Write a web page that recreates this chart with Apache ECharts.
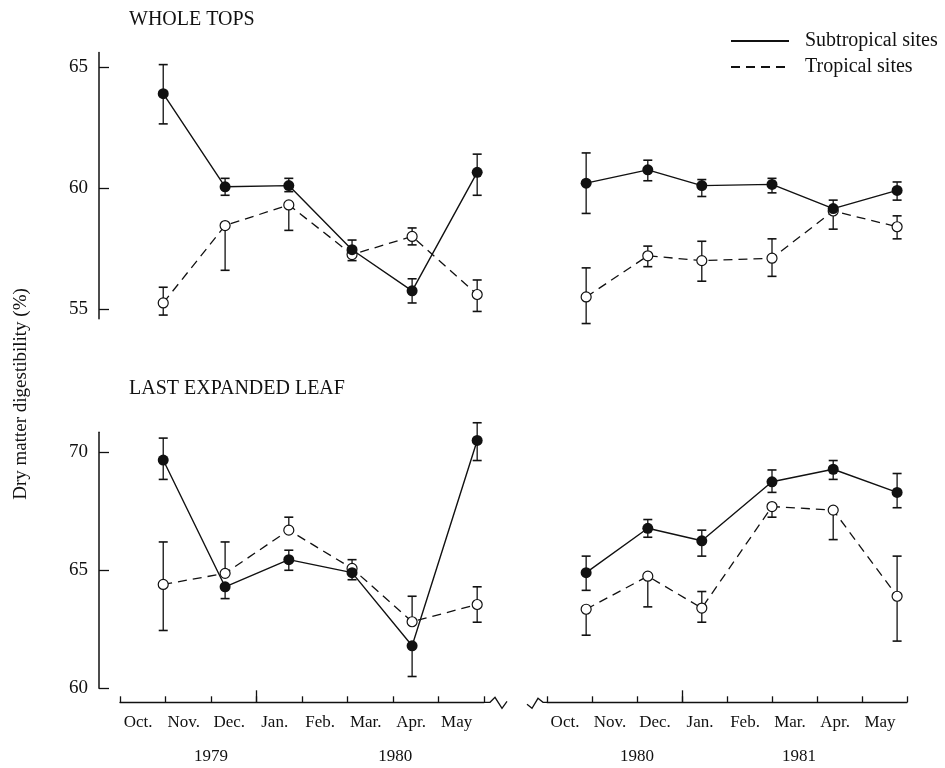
<!DOCTYPE html>
<html>
<head>
<meta charset="utf-8">
<script src="https://cdn.jsdelivr.net/npm/echarts@6/dist/echarts.min.js"></script>
<style>
html,body{margin:0;padding:0;background:#fff;}
#chart{width:945px;height:768px;}
</style>
</head>
<body>
<div id="chart"></div>
<script>
// ---- Data (months since 1 Oct of each season) ----
var monthLabels = ['Oct.', 'Nov.', 'Dec.', 'Jan.', 'Feb.', 'Mar.', 'Apr.', 'May'];
var yearLabels1 = ['1979', '1980'];
var yearLabels2 = ['1980', '1981'];
var yearPos1 = [2.0, 6.05];
var yearPos2 = [2.0, 5.6];
var topTicks = [55, 60, 65];
var leafTicks = [60, 65, 70];

var season1X = [0.95, 2.31, 3.71, 5.10, 6.42, 7.85];
var season2X = [0.87, 2.24, 3.44, 5.00, 6.36, 7.78];

// WHOLE TOPS
var topSub1 = [63.9, 60.05, 60.1, 57.45, 55.75, 60.65];
var topSub1Up = [65.1, 60.4, 60.4, 57.85, 56.25, 61.4];
var topSub1Lo = [62.65, 59.7, 59.85, null, 55.25, 59.7];
var topTro1 = [55.25, 58.45, 59.3, 57.25, 58.0, 55.6];
var topTro1Up = [55.9, null, null, null, 58.35, 56.2];
var topTro1Lo = [54.75, 56.6, 58.25, 57.0, 57.65, 54.9];

var topSub2 = [60.2, 60.75, 60.1, 60.15, 59.15, 59.9];
var topSub2Up = [61.45, 61.15, 60.35, 60.4, 59.5, 60.25];
var topSub2Lo = [58.95, 60.3, 59.65, 59.8, null, 59.5];
var topTro2 = [55.5, 57.2, 57.0, 57.1, 59.05, 58.4];
var topTro2Up = [56.7, 57.6, 57.8, 57.9, null, 58.85];
var topTro2Lo = [54.4, 56.75, 56.15, 56.35, 58.3, 57.9];

// LAST EXPANDED LEAF
var leafSub1 = [69.67, 64.3, 65.45, 64.9, 61.8, 70.5];
var leafSub1Up = [70.6, null, 65.85, null, null, 71.25];
var leafSub1Lo = [68.85, 63.8, 65.0, 64.6, 60.5, 69.65];
var leafTro1 = [64.4, 64.87, 66.7, 65.08, 62.82, 63.55];
var leafTro1Up = [66.2, 66.2, 67.25, 65.45, 63.9, 64.3];
var leafTro1Lo = [62.45, null, null, null, null, 62.8];

var leafSub2 = [64.9, 66.78, 66.25, 68.75, 69.28, 68.3];
var leafSub2Up = [65.6, 67.15, 66.7, 69.25, 69.65, 69.1];
var leafSub2Lo = [64.15, 66.4, 65.6, 68.3, 68.85, 67.65];
var leafTro2 = [63.35, 64.75, 63.4, 67.7, 67.55, 63.9];
var leafTro2Up = [null, null, 64.1, null, null, 65.6];
var leafTro2Lo = [62.25, 63.45, 62.8, 67.25, 66.3, 62.0];

// ---- Styles ----
var FONT = '"Liberation Serif", "DejaVu Serif", serif';
var INK = '#111';
var SUB = 'Subtropical sites';
var TRO = 'Tropical sites';

function pairs(xs, ys) {
  return xs.map(function (x, i) { return [x, ys[i]]; });
}
function whiskers(xs, mean, up, lo) {
  var out = [];
  xs.forEach(function (x, i) {
    if (up[i] != null) out.push([x, mean[i], up[i]]);
    if (lo[i] != null) out.push([x, mean[i], lo[i]]);
  });
  return out;
}
function renderWhisker(params, api) {
  var x = api.value(0);
  var p0 = api.coord([x, api.value(1)]);
  var p1 = api.coord([x, api.value(2)]);
  var hw = 4.5;
  return {
    type: 'group',
    children: [
      { type: 'line', shape: { x1: p0[0], y1: p0[1], x2: p1[0], y2: p1[1] },
        style: { stroke: INK, lineWidth: 1.3 } },
      { type: 'line', shape: { x1: p1[0] - hw, y1: p1[1], x2: p1[0] + hw, y2: p1[1] },
        style: { stroke: INK, lineWidth: 1.6 } }
    ]
  };
}
function errSeries(idx, xs, mean, up, lo) {
  return {
    type: 'custom', xAxisIndex: idx, yAxisIndex: idx, z: 1,
    renderItem: renderWhisker, encode: { x: 0, y: [1, 2] },
    data: whiskers(xs, mean, up, lo), silent: true, clip: false
  };
}
function subSeries(idx, xs, ys) {
  return {
    type: 'line', name: SUB, xAxisIndex: idx, yAxisIndex: idx, z: 4,
    data: pairs(xs, ys), symbol: 'circle', symbolSize: 11, showSymbol: true,
    lineStyle: { color: INK, width: 1.4, type: 'solid' },
    itemStyle: { color: INK, borderColor: INK, borderWidth: 0 },
    silent: true
  };
}
function troSeries(idx, xs, ys) {
  return {
    type: 'line', name: TRO, xAxisIndex: idx, yAxisIndex: idx, z: 3,
    data: pairs(xs, ys), symbol: 'circle', symbolSize: 10, showSymbol: true,
    lineStyle: { color: INK, width: 1.3, type: [9, 6] },
    itemStyle: { color: '#fff', borderColor: INK, borderWidth: 1.2 },
    silent: true
  };
}

var grids = [
  { left: 120, width: 364, top: 52.5, height: 266.2 },
  { left: 547, width: 360, top: 52.5, height: 266.2 },
  { left: 120, width: 364, top: 432.2, height: 256.1 },
  { left: 547, width: 360, top: 432.2, height: 256.1 }
];

function hiddenX(g) {
  return { type: 'value', gridIndex: g, min: 0, max: 8, show: false };
}
function monthAxis(g) {
  return {
    type: 'value', gridIndex: g, min: 0, max: 8, position: 'bottom', offset: 14,
    axisLine: { show: true, onZero: false, lineStyle: { color: INK, width: 1.3 } },
    axisTick: { show: true, inside: true, length: 6, customValues: [0, 1, 2, 3, 4, 5, 6, 7, 8],
      lineStyle: { color: INK, width: 1.3 } },
    axisLabel: { show: true, customValues: [0.4, 1.4, 2.4, 3.4, 4.4, 5.4, 6.4, 7.4], margin: 12,
      formatter: function (v) { return monthLabels[Math.floor(v)]; },
      fontFamily: FONT, fontSize: 17, color: INK, hideOverlap: false },
    splitLine: { show: false }
  };
}
function yearAxis(g, pos, labels) {
  return {
    type: 'value', gridIndex: g, min: 0, max: 8, position: 'bottom', offset: 14,
    axisLine: { show: false, onZero: false },
    axisTick: { show: true, inside: true, length: 12, customValues: [3],
      lineStyle: { color: INK, width: 1.3 } },
    axisLabel: { show: true, customValues: pos, margin: 46,
      formatter: function (v) { return labels[pos.indexOf(v)]; },
      fontFamily: FONT, fontSize: 17, color: INK },
    splitLine: { show: false }
  };
}
function shownY(g, min, max, ticks) {
  return {
    type: 'value', gridIndex: g, min: min, max: max, position: 'left', offset: 21,
    axisLine: { show: true, onZero: false, lineStyle: { color: INK, width: 1.5 } },
    axisTick: { show: true, inside: true, length: 10, customValues: ticks,
      lineStyle: { color: INK, width: 1.3 } },
    axisLabel: { show: true, customValues: ticks, margin: 11,
      fontFamily: FONT, fontSize: 19, color: INK },
    splitLine: { show: false }
  };
}
function hiddenY(g, min, max) {
  return { type: 'value', gridIndex: g, min: min, max: max, show: false };
}

var option = {
  backgroundColor: '#fff',
  animation: false,
  title: [
    { text: 'WHOLE TOPS', left: 124, top: 5,
      textStyle: { fontFamily: FONT, fontSize: 20, fontWeight: 'normal', color: INK } },
    { text: 'LAST EXPANDED LEAF', left: 124, top: 374,
      textStyle: { fontFamily: FONT, fontSize: 20, fontWeight: 'normal', color: INK } }
  ],
  legend: {
    data: [SUB, TRO], orient: 'vertical', left: 725, top: 26,
    itemWidth: 58, itemHeight: 14, itemGap: 6, selectedMode: false,
    itemStyle: { color: 'rgba(0,0,0,0)', borderColor: 'rgba(0,0,0,0)', borderWidth: 0 },
    textStyle: { fontFamily: FONT, fontSize: 20, color: INK, padding: [0, 0, 0, 11] }
  },
  grid: grids,
  xAxis: [hiddenX(0), hiddenX(1), monthAxis(2), monthAxis(3),
          yearAxis(2, yearPos1, yearLabels1), yearAxis(3, yearPos2, yearLabels2)],
  yAxis: [shownY(0, 54.6, 65.6, topTicks), hiddenY(1, 54.6, 65.6),
          shownY(2, 60, 70.85, leafTicks), hiddenY(3, 60, 70.85)],
  graphic: [
    { type: 'text', x: 21, y: 394, rotation: Math.PI / 2,
      style: { text: 'Dry matter digestibility (%)', fontFamily: FONT, fontSize: 19,
        fill: INK, align: 'center', verticalAlign: 'middle' } }
  ],
  series: [
    errSeries(0, season1X, topSub1, topSub1Up, topSub1Lo),
    errSeries(0, season1X, topTro1, topTro1Up, topTro1Lo),
    errSeries(1, season2X, topSub2, topSub2Up, topSub2Lo),
    errSeries(1, season2X, topTro2, topTro2Up, topTro2Lo),
    errSeries(2, season1X, leafSub1, leafSub1Up, leafSub1Lo),
    errSeries(2, season1X, leafTro1, leafTro1Up, leafTro1Lo),
    errSeries(3, season2X, leafSub2, leafSub2Up, leafSub2Lo),
    errSeries(3, season2X, leafTro2, leafTro2Up, leafTro2Lo),
    subSeries(0, season1X, topSub1), troSeries(0, season1X, topTro1),
    subSeries(1, season2X, topSub2), troSeries(1, season2X, topTro2),
    subSeries(2, season1X, leafSub1), troSeries(2, season1X, leafTro1),
    subSeries(3, season2X, leafSub2), troSeries(3, season2X, leafTro2)
  ]
};

var chart = echarts.init(document.getElementById('chart'), null, { renderer: 'canvas' });
chart.setOption(option);

// Axis break zigzags, positioned from the axis ends
var endA = chart.convertToPixel({ xAxisIndex: 2, yAxisIndex: 2 }, [8, 60]);
var startB = chart.convertToPixel({ xAxisIndex: 3, yAxisIndex: 3 }, [0, 60]);
var ay = endA[1] + 14;
var zig1 = [[endA[0], ay], [endA[0] + 6, ay], [endA[0] + 11, ay - 5], [endA[0] + 18, ay + 6], [endA[0] + 23, ay - 1]];
var zig2 = [[startB[0] - 20, ay + 2], [startB[0] - 15, ay + 6], [startB[0] - 9, ay - 4], [startB[0] - 4, ay], [startB[0], ay]];
chart.setOption({
  graphic: [
    option.graphic[0],
    { type: 'polyline', shape: { points: zig1 }, style: { stroke: INK, lineWidth: 1.3, fill: null } },
    { type: 'polyline', shape: { points: zig2 }, style: { stroke: INK, lineWidth: 1.3, fill: null } }
  ]
});
</script>
</body>
</html>
